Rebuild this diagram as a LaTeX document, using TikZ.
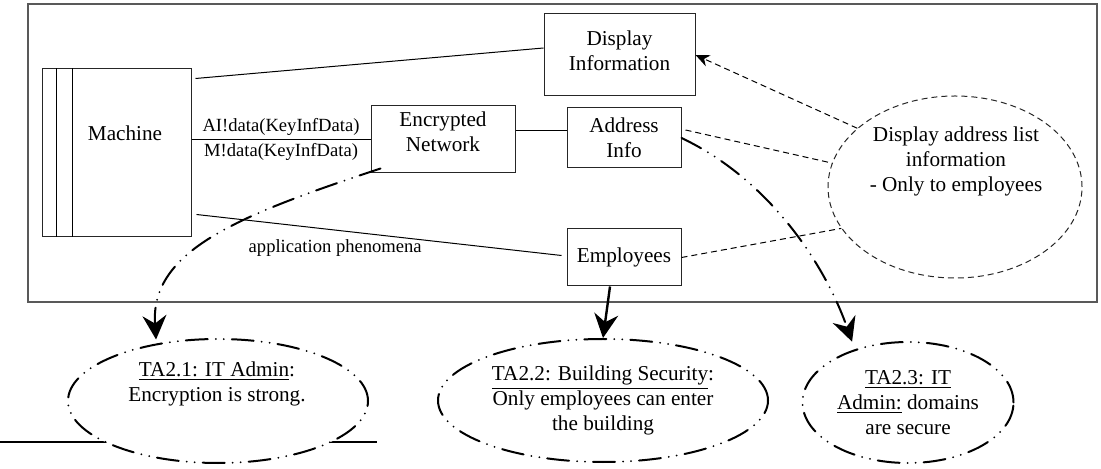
\documentclass[tikz,border=0pt]{standalone}
\usepackage{fontspec}
\setmainfont{Liberation Serif}
\usetikzlibrary{shapes.geometric,arrows.meta}
\def \BodyFont {\fontsize{10.6}{12.5}\selectfont}
\def \SmallFont {\fontsize{9.3}{11}\selectfont}
\tikzstyle{dombox}=[
  draw=black!85,
  line width=0.5pt,
  rectangle,
  inner sep=0pt,
  align=center,
  font=\BodyFont
]
\tikzstyle{reqell}=[
  draw=black!85,
  ellipse,
  line width=0.5pt,
  dash pattern=on 3pt off 2pt,
  inner sep=0pt
]
\tikzstyle{dashdotdot}=[
  line width=1pt,
  line cap=round,
  dash pattern=on 11pt off 4pt on 0pt off 4pt on 0pt off 4pt
]
\tikzstyle{assume}=[
  dashdotdot,
  draw=black,
  fill=white,
  ellipse,
  inner sep=0pt,
  align=center,
  font=\BodyFont
]
\tikzstyle{depline}=[
  line width=0.5pt,
  dash pattern=on 3pt off 2pt
]
\tikzstyle{bigtip}=[-{Stealth[length=12pt,width=12pt,inset=4pt]}]

\begin{document}
\begin{tikzpicture}[x=0.5pt,y=-0.5pt]
          \useasboundingbox (0,0) rectangle (1101,469);

          % context frame
          \draw[black!65, line width=0.8pt] (28,4) rectangle (1097,302);

          % machine
          \node[dombox, minimum width=74.25pt, minimum height=84pt] (mach) at (116.75,153) {};
          \foreach \s in {7.25,15}{
            \draw[line width=0.5pt] ([xshift=\s pt]mach.north west) -- ([xshift=\s pt]mach.south west);
          }
          \node[font=\BodyFont] (machtxt) at (125,133) {Machine};

          % domains
          \node[dombox, minimum width=75.5pt, minimum height=41pt] (disp) at (619.5,55) {Display\\Information\\[-8.5pt]};
          \node[dombox, minimum width=72pt, minimum height=33.5pt] (enc) at (443,139.5) {Encrypted\\Network\\[-4.5pt]};
          \node[dombox, minimum width=57pt, minimum height=30pt] (ai) at (624,138) {Address\\Info};
          \node[dombox, minimum width=57pt, minimum height=28.5pt] (emp) at (624,257.5) {Employees};

          % requirement
          \node[reqell, minimum width=127pt, minimum height=91pt] (dal) at (955,187) {};
          \node[font=\BodyFont, align=center] (daltxt) at (956,161) {Display address list\\information\\- Only to employees};

          % assumptions
          \draw[line width=0.6pt] (0,442) -- (377,442);
          \node[assume, minimum width=150pt, minimum height=62pt] (ta1) at (218,401) {};
          \node[font=\BodyFont, align=center] (ta1txt) at (217,384) {\underline{TA2.1: IT Admin}:\\Encryption is strong.};
          \node[assume, minimum width=165pt, minimum height=61.5pt] (ta2) at (603,400.5) {\underline{TA2.2: Building Security}:\\Only employees can enter\\the building};
          \node[assume, minimum width=105.5pt, minimum height=60.5pt] (ta3) at (908,402.5) {\underline{TA2.3: IT}\\\underline{Admin:} domains\\are secure};

          % connect machine
          \draw[line width=0.5pt] ([xshift=2pt,yshift=-5pt]mach.north east) -- ([yshift=3.5pt]disp.west);
          \draw[line width=0.5pt] (mach.east |- enc.west) -- (enc.west)
            node[midway, above, font=\SmallFont, inner sep=1.5pt] (lblai) {AI!data(KeyInfData)}
            node[midway, below, font=\SmallFont, inner sep=1.5pt] (lblm) {M!data(KeyInfData)};
          \draw[line width=0.5pt] ([xshift=2.5pt,yshift=11.5pt]mach.south east) -- ([xshift=-2.5pt,yshift=1pt]emp.west)
            node[pos=0.38, below=1pt, font=\SmallFont] (lblapp) {application phenomena};
          \draw[line width=0.5pt] ([yshift=4.25pt]enc.east) -- ([yshift=3.5pt]ai.west);

          % connect requirement
          \draw[depline, -{Stealth[length=7pt,width=6pt]}] (dal.149) -- (disp.east);
          \draw[depline] ([xshift=2pt,yshift=4pt]ai.east) -- (dal.169);
          \draw[depline] (emp.east) -- (dal.200);

          % connect assumptions
          \draw[dashdotdot, bigtip, shorten >=2pt] ([xshift=5pt,yshift=2.5pt]enc.south west) .. controls (240,215) and (150,250) .. (ta1.137);
          \draw[line width=1.2pt, bigtip] ([xshift=-7pt]emp.south) -- (ta2.north);
          \draw[dashdotdot, bigtip, shorten >=4pt] (ai.east) .. controls (770,180) and (825,265) .. (ta3.135);
        \end{tikzpicture}
\end{document}
